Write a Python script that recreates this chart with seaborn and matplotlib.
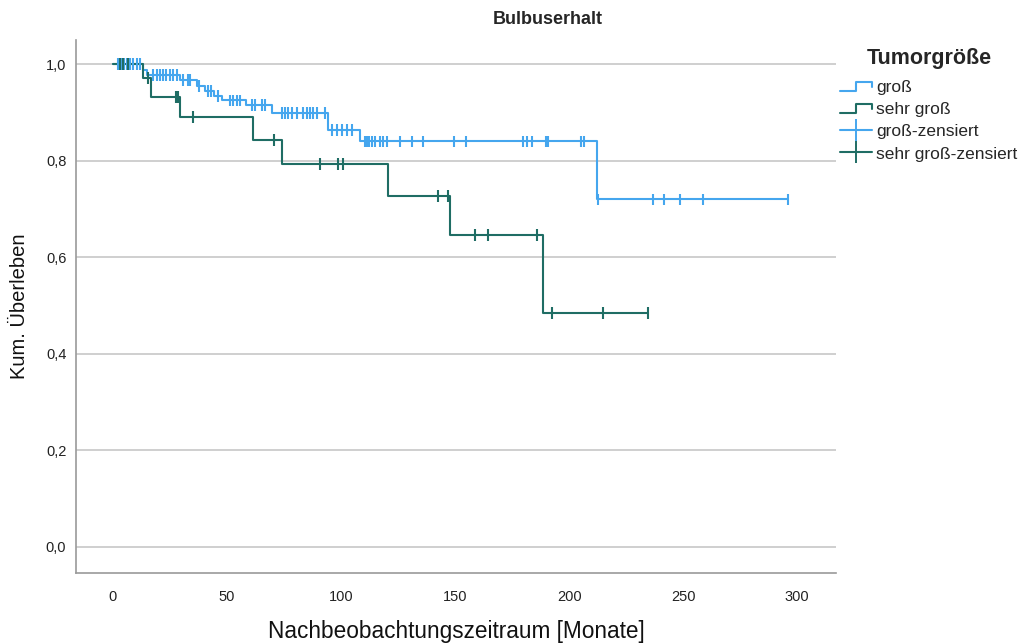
import numpy as np
import pandas as pd
import matplotlib
matplotlib.use("Agg")
import matplotlib.pyplot as plt
from matplotlib.lines import Line2D
from matplotlib.legend_handler import HandlerBase
import seaborn as sns

# Kaplan-Meier step data (event times in months, survival after each event)
gross_event_t = [13.2, 14.9, 29.4, 36.8, 40.4, 44.3, 47.8, 58.3, 69.7, 94.3, 108.3, 212.3]
gross_surv = [0.988, 0.977, 0.967, 0.955, 0.945, 0.934, 0.925, 0.915, 0.899, 0.863, 0.840, 0.720]
gross_censored = [2.0, 3.5, 5.0, 6.0, 7.5, 9.0, 10.5, 12.0,
                  17.5, 19.3, 20.6, 21.9, 23.2, 25.0, 26.3, 28.1,
                  30.7, 32.9, 33.8, 37.7, 41.7, 43.0, 46.1,
                  51.3, 52.6, 54.4, 55.7, 61.0, 62.3, 65.4, 66.7,
                  74.1, 75.4, 76.8, 78.5, 80.7, 83.3, 85.1, 86.4, 87.7, 89.5, 93.0,
                  96.1, 98.2, 100.4, 102.6, 104.8,
                  110.5, 111.4, 112.3, 113.6, 114.9, 117.1, 118.4, 120.2, 125.9, 131.1,
                  136.0, 149.6, 154.8, 179.8, 181.6, 183.8, 189.9, 190.8, 205.3, 206.6,
                  212.7, 236.8, 241.7, 248.7, 258.8, 296.1]

sehr_event_t = [13.2, 16.7, 29.4, 61.4, 74.1, 120.6, 147.8, 188.6]
sehr_surv = [0.971, 0.932, 0.890, 0.843, 0.793, 0.727, 0.646, 0.484]
sehr_censored = [3.0, 4.5, 6.5, 15.2, 27.6, 28.5, 35.1, 70.6, 90.8, 98.7, 100.9,
                 142.5, 146.9, 158.8, 164.5, 186.0, 192.5, 214.9, 234.6]

groups = ["groß", "sehr groß"]
colors = {"groß": "#45a6ee", "sehr groß": "#1f6d64"}
y_ticks = [0.0, 0.2, 0.4, 0.6, 0.8, 1.0]
x_ticks = [0, 50, 100, 150, 200, 250, 300]


def step_frame(name, ev_t, surv, cens):
    end = max(cens[-1], ev_t[-1])
    t = [0.0] + list(ev_t) + [end]
    s = [1.0] + list(surv) + [surv[-1]]
    return pd.DataFrame({"t": t, "S": s, "group": name})


def censor_frame(name, ev_t, surv, cens):
    levels = np.array([1.0] + list(surv))
    idx = np.searchsorted(np.array(ev_t), np.array(cens), side="right")
    return pd.DataFrame({"t": cens, "S": levels[idx], "group": name})


steps = pd.concat([step_frame("groß", gross_event_t, gross_surv, gross_censored),
                   step_frame("sehr groß", sehr_event_t, sehr_surv, sehr_censored)])
cens = pd.concat([censor_frame("groß", gross_event_t, gross_surv, gross_censored),
                  censor_frame("sehr groß", sehr_event_t, sehr_surv, sehr_censored)])

sns.set_style("white")
plt.rcParams["font.family"] = ["Liberation Sans", "DejaVu Sans"]

fig = plt.figure(figsize=(10.21, 6.44), dpi=100)
ax = fig.add_axes([76 / 1021, 1 - 573 / 644, (836 - 76) / 1021, (573 - 40) / 644])

for yv in y_ticks:
    ax.axhline(yv, color="#cfcfcf", lw=1.4, zorder=0)

sns.lineplot(data=steps, x="t", y="S", hue="group", palette=colors,
             drawstyle="steps-post", estimator=None, sort=False,
             linewidth=1.5, legend=False, ax=ax)
sns.scatterplot(data=cens, x="t", y="S", hue="group", palette=colors,
                marker="|", s=70, linewidth=1.5, legend=False, ax=ax, zorder=3)

ax.set_xlim(-16.2, 317)
ax.set_ylim(-0.054, 1.05)
ax.set_xticks(x_ticks)
ax.set_xticklabels([str(v) for v in x_ticks])
ax.set_yticks(y_ticks)
ax.set_yticklabels([f"{v:.1f}".replace(".", ",") for v in y_ticks])
ax.tick_params(axis="both", length=0, labelsize=10.5, colors="#222222")
ax.tick_params(axis="x", pad=12)
ax.tick_params(axis="y", pad=7)
for side in ["top", "right"]:
    ax.spines[side].set_visible(False)
for side in ["left", "bottom"]:
    ax.spines[side].set_color("#9a9a9a")
    ax.spines[side].set_linewidth(1.2)

ax.set_xlabel("Nachbeobachtungszeitraum [Monate]", fontsize=16.3, labelpad=12, color="#111111")
ax.set_ylabel("Kum. Überleben", fontsize=14.5, labelpad=12, color="#111111")
fig.text(548 / 1021, 1 - 20 / 644, "Bulbuserhalt", ha="center", va="center",
         fontsize=13, fontweight="bold")


class StepHandler(HandlerBase):
    def create_artists(self, legend, orig_handle, xdescent, ydescent,
                       width, height, fontsize, trans):
        x0, x1 = -xdescent, -xdescent + width
        xm = x0 + 0.5 * width
        yl = -ydescent + 0.1 * height
        yh = -ydescent + 0.85 * height
        ym = -ydescent + 0.45 * height
        line = Line2D([x0, xm, xm, x1, x1], [yl, yl, yh, yh, ym],
                      color=orig_handle.get_color(), lw=1.5, transform=trans)
        return [line]


h_g = Line2D([], [], color=colors["groß"])
h_s = Line2D([], [], color=colors["sehr groß"])
h_gc = Line2D([], [], color=colors["groß"], marker="|", markersize=16, lw=1.5, mew=1.4)
h_sc = Line2D([], [], color=colors["sehr groß"], marker="|", markersize=16, lw=1.5, mew=1.4)
leg = fig.legend([h_g, h_s, h_gc, h_sc],
                 ["groß", "sehr groß", "groß-zensiert", "sehr groß-zensiert"],
                 handler_map={h_g: StepHandler(), h_s: StepHandler()},
                 loc="upper left", bbox_to_anchor=(840 / 1021, 1 - 48 / 644),
                 borderpad=0, borderaxespad=0,
                 frameon=False, fontsize=12.5, title="Tumorgröße",
                 title_fontproperties={"weight": "bold", "size": 15.5},
                 handlelength=1.85, handletextpad=0.25, labelspacing=0.4)
leg._legend_box.align = "center"
leg._legend_box.sep = 8

fig.savefig("out.png", dpi=100)
